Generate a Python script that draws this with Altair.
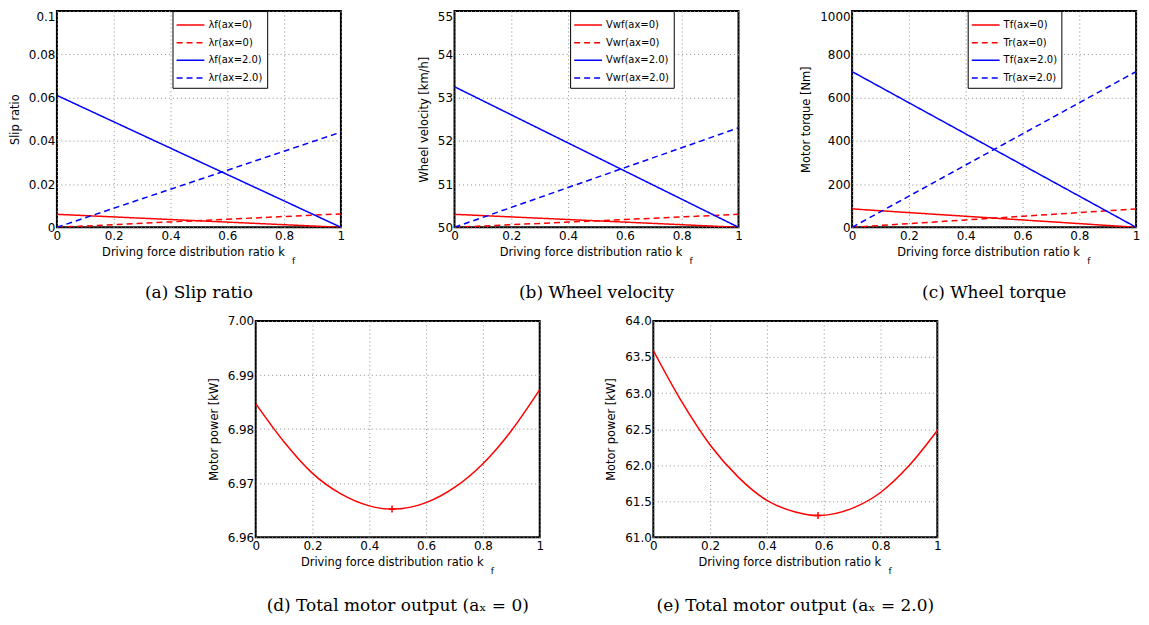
import altair as alt
import pandas as pd

# ---------------- data ----------------
kf = [0.0, 0.2, 0.4, 0.6, 0.8, 1.0]

slip_names = ["λf(ax=0)", "λr(ax=0)", "λf(ax=2.0)", "λr(ax=2.0)"]
slip_f0 = [0.0060, 0.0048, 0.0036, 0.0024, 0.0012, 0.0]
slip_r0 = [0.0, 0.0012, 0.0025, 0.0037, 0.0050, 0.0062]
slip_f2 = [0.0610, 0.0488, 0.0366, 0.0244, 0.0122, 0.0]
slip_r2 = [0.0, 0.0088, 0.0176, 0.0264, 0.0352, 0.0440]

vel_names = ["Vwf(ax=0)", "Vwr(ax=0)", "Vwf(ax=2.0)", "Vwr(ax=2.0)"]
vel_f0 = [50.30, 50.24, 50.18, 50.12, 50.06, 50.00]
vel_r0 = [50.00, 50.06, 50.12, 50.18, 50.24, 50.30]
vel_f2 = [53.25, 52.60, 51.95, 51.30, 50.65, 50.00]
vel_r2 = [50.00, 50.46, 50.92, 51.38, 51.84, 52.30]

trq_names = ["Tf(ax=0)", "Tr(ax=0)", "Tf(ax=2.0)", "Tr(ax=2.0)"]
trq_f0 = [85, 68, 51, 34, 17, 0]
trq_r0 = [0, 17, 34, 51, 68, 85]
trq_f2 = [720, 576, 432, 288, 144, 0]
trq_r2 = [0, 144, 288, 432, 576, 720]

kf_d = [0.0, 0.1, 0.2, 0.3, 0.4, 0.48, 0.6, 0.7, 0.8, 0.9, 1.0]
pow_d = [6.9847, 6.9776, 6.9718, 6.9680, 6.9658, 6.9652, 6.9664, 6.9692, 6.9736, 6.9797, 6.9873]
min_d_kf = [0.48]
min_d_pow = [6.9652]

kf_e = [0.0, 0.1, 0.2, 0.3, 0.4, 0.5, 0.58, 0.7, 0.8, 0.9, 1.0]
pow_e = [63.59, 62.88, 62.28, 61.83, 61.51, 61.35, 61.30, 61.40, 61.62, 61.99, 62.48]
min_e_kf = [0.58]
min_e_pow = [61.30]

x_ticks = [0, 0.2, 0.4, 0.6, 0.8, 1.0]
x_title = "Driving force distribution ratio k"

captions = ["(a)  Slip ratio", "(b)  Wheel velocity", "(c)  Wheel torque",
            "(d)  Total motor output (aₓ = 0)", "(e)  Total motor output (aₓ = 2.0)"]

# ---------------- styling ----------------
W, H = 285, 217
W2, H2 = 285, 217
SANS = "DejaVu Sans"
SERIF = "DejaVu Serif"
line_colors = ["#ff0000", "#ff0000", "#0000ff", "#0000ff"]
line_dashes = [[1, 0], [6, 4], [1, 0], [6, 4]]


def x_axis(w):
    return alt.Axis(values=x_ticks, format="~g", title=x_title, titleX=w / 2 - 6,
                    labelFlush=False)


def subscript(w, h):
    return alt.Chart(pd.DataFrame({"t": ["f"]})).mark_text(
        font=SANS, fontSize=9, color="black", align="center", baseline="middle"
    ).encode(text="t:N", x=alt.value(w / 2 + 95), y=alt.value(h + 34))


def caption_title(text, off):
    return alt.TitleParams(text, orient="bottom", frame="group", offset=off,
                           font=SERIF, fontSize=17, fontWeight="normal", color="black",
                           anchor="middle")


def top_panel(names, series, ydomain, yticks, yfmt, ytitle, caption):
    rows = []
    for name, vals in zip(names, series):
        for k, v in zip(kf, vals):
            rows.append({"kf": k, "value": v, "series": name})
    df = pd.DataFrame(rows)
    leg = alt.Legend(title=None, orient="none", legendX=116, legendY=0,
                     fillColor="white", strokeColor="black", padding=4,
                     symbolType="M-1.1,0H2.0", symbolSize=324, symbolStrokeWidth=1.5,
                     labelFont=SANS, labelFontSize=10, labelColor="black",
                     labelOffset=12, rowPadding=2.7)
    top_test = f"datum.value >= {ydomain[1] * 0.999}"
    lines = alt.Chart(df).mark_line(strokeWidth=1.5, clip=True).encode(
        x=alt.X("kf:Q", scale=alt.Scale(domain=[0, 1], nice=False), axis=x_axis(W)),
        y=alt.Y("value:Q", scale=alt.Scale(domain=ydomain, nice=False),
                axis=alt.Axis(values=yticks, format=yfmt, title=ytitle,
                              labelBaseline={"condition": {"test": top_test, "value": "top"},
                                             "value": "middle"})),
        color=alt.Color("series:N", scale=alt.Scale(domain=names, range=line_colors), legend=leg),
        strokeDash=alt.StrokeDash("series:N", scale=alt.Scale(domain=names, range=line_dashes),
                                  legend=leg),
    )
    return alt.layer(lines, subscript(W, H)).properties(
        width=W, height=H, title=caption_title(caption, 19))


def bottom_panel(xs, ys, mx, my, ydomain, yticks, yfmt, caption):
    df = pd.DataFrame({"kf": xs, "value": ys})
    dm = pd.DataFrame({"kf": mx, "value": my})
    xenc = alt.X("kf:Q", scale=alt.Scale(domain=[0, 1], nice=False), axis=x_axis(W2))
    yenc = alt.Y("value:Q", scale=alt.Scale(domain=ydomain, nice=False),
                 axis=alt.Axis(values=yticks, format=yfmt, title="Motor power [kW]"))
    line = alt.Chart(df).mark_line(color="#ff0000", strokeWidth=1.5, interpolate="monotone",
                                   clip=True).encode(x=xenc, y=yenc)
    mark = alt.Chart(dm).mark_point(shape="M-1,0L1,0M0,-1L0,1", size=50, color="#ff0000",
                                    filled=False, strokeWidth=1.5, opacity=1).encode(x=xenc, y=yenc)
    return alt.layer(line, mark, subscript(W2, H2)).properties(
        width=W2, height=H2, title=caption_title(caption, 22))


a = top_panel(slip_names, [slip_f0, slip_r0, slip_f2, slip_r2], [0, 0.1],
              [0, 0.02, 0.04, 0.06, 0.08, 0.1], "~g", "Slip ratio", captions[0])
b = top_panel(vel_names, [vel_f0, vel_r0, vel_f2, vel_r2], [50, 55],
              [50, 51, 52, 53, 54, 55], "d", "Wheel velocity [km/h]", captions[1])
c = top_panel(trq_names, [trq_f0, trq_r0, trq_f2, trq_r2], [0, 1000],
              [0, 200, 400, 600, 800, 1000], "d", "Motor torque [Nm]", captions[2])
d = bottom_panel(kf_d, pow_d, min_d_kf, min_d_pow, [6.96, 7.0],
                 [6.96, 6.97, 6.98, 6.99, 7.0], ".2f", captions[3])
e = bottom_panel(kf_e, pow_e, min_e_kf, min_e_pow, [61, 64],
                 [61, 61.5, 62, 62.5, 63, 63.5, 64], ".1f", captions[4])

top = alt.hconcat(a, b, c, spacing=114, bounds="flush").resolve_scale(
    color="independent", strokeDash="independent")
bottom = alt.hconcat(d, e, spacing=114, bounds="flush")

chart = alt.vconcat(top, bottom, spacing=12, center=True).resolve_scale(
    color="independent", strokeDash="independent"
).properties(
    padding={"left": 0, "top": 0, "right": 0, "bottom": 0},
    background="white",
).configure_view(
    stroke="black", strokeWidth=2
).configure_axis(
    domain=False, ticks=False, grid=True, gridColor="#8a8a8a", gridDash=[1, 3], gridWidth=1,
    labelFont=SANS, labelFontSize=12, labelColor="black", labelPadding=3,
    titleFont=SANS, titleFontSize=11.5, titleFontWeight="normal", titleColor="black",
).configure_axisX(titlePadding=5).configure_axisY(labelPadding=2, titlePadding=8)

chart.save("out.html", embed_options={"renderer": "svg", "actions": False})
